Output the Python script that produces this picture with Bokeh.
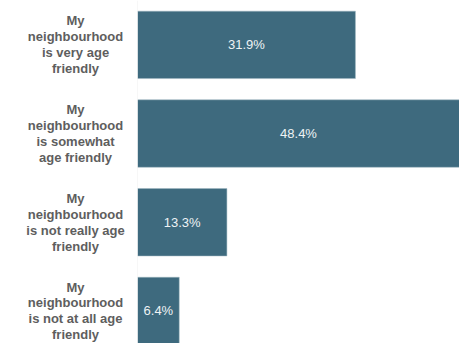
from bokeh.plotting import figure
from bokeh.layouts import row
from bokeh.models import Range1d, ColumnDataSource
from bokeh.core.properties import value
from bokeh.embed import file_html
from bokeh.resources import INLINE

categories = [
    "My\nneighbourhood\nis very age\nfriendly",
    "My\nneighbourhood\nis somewhat\nage friendly",
    "My\nneighbourhood\nis not really age\nfriendly",
    "My\nneighbourhood\nis not at all age\nfriendly",
]
values = [31.9, 48.4, 13.3, 6.4]
value_labels = ["31.9%", "48.4%", "13.3%", "6.4%"]

x_start, x_end = 0.36, 46.96
pos = list(range(len(categories)))
label_x = [(max(0, x_start) + min(v, x_end)) / 2 for v in values]

src = ColumnDataSource(dict(y=pos, v=values, lab=value_labels, lx=label_x,
                            cat=categories, cx=[75] * len(pos)))

yr = Range1d(3.367, -0.5)

left = figure(width=137, height=343, output_backend="svg", toolbar_location=None,
              x_range=Range1d(0, 137), y_range=yr,
              min_border_left=0, min_border_right=0, min_border_top=0, min_border_bottom=0)
left.outline_line_color = None
left.grid.visible = False
left.axis.visible = False
left.text(x="cx", y="y", text="cat", source=src, text_align="center",
          text_baseline="middle", text_color="#5e5e5e", text_font_size="13px",
          text_font=value("Liberation Sans"), text_font_style="bold",
          text_line_height=1.06)

p = figure(width=322, height=343, output_backend="svg", toolbar_location=None,
           x_range=Range1d(x_start, x_end), y_range=yr,
           min_border_left=0, min_border_right=0, min_border_top=0, min_border_bottom=0)
p.outline_line_color = None
p.grid.visible = False
p.axis.visible = False

p.hbar(y="y", left=0, right="v", height=0.76, source=src,
       fill_color="#3e6a7e", line_color="#9fb6c1", line_width=0.5)
p.text(x="lx", y="y", text="lab", source=src, text_align="center",
       text_baseline="middle", text_color="#eef3f5", text_font_size="13px",
       text_font=value("Liberation Sans"))
p.segment(x0=x_start, x1=x_start, y0=-0.5, y1=3.367, line_color="#f0f0f0", line_width=1)

open("out.html", "w").write(file_html(row(left, p), INLINE))
